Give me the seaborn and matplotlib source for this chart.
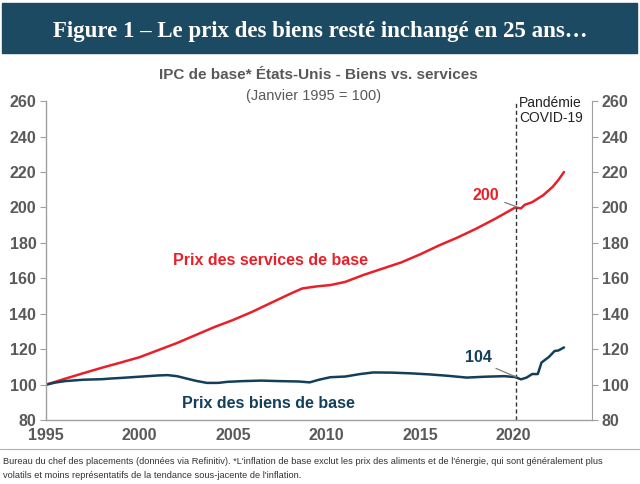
import matplotlib
matplotlib.use("Agg")
import matplotlib.pyplot as plt
from matplotlib.patches import Rectangle
import seaborn as sns
import pandas as pd

# IPC de base Etats-Unis (janvier 1995 = 100)
services_dates = [1995.0, 1996.0, 1997.0, 1998.0, 1999.0, 2000.0, 2001.0, 2002.0,
                  2003.0, 2004.0, 2005.0, 2006.0, 2007.0, 2008.0, 2008.7, 2009.5,
                  2010.2, 2011.0, 2012.0, 2013.0, 2014.0, 2015.0, 2016.0, 2017.0,
                  2018.0, 2019.0, 2020.1, 2020.4, 2020.6, 2021.0, 2021.6, 2022.1,
                  2022.4, 2022.7]
services = [100, 103.3, 106.5, 109.6, 112.5, 115.5, 119.5, 123.5,
            128, 132.5, 136.5, 141, 146, 151, 154.3, 155.5,
            156.2, 158, 162, 165.5, 169, 173.5, 178.5, 183,
            188, 193.5, 200, 199.5, 201.5, 203, 207, 211.7,
            215.5, 220]

goods_dates = [1995.0, 1995.5, 1996.0, 1997.0, 1998.0, 1998.5, 1999.0, 2000.0,
               2001.0, 2001.5, 2002.0, 2002.5, 2003.0, 2003.6, 2004.2, 2004.7,
               2005.5, 2006.5, 2007.5, 2008.5, 2009.1, 2009.6, 2010.2, 2011.0,
               2011.8, 2012.5, 2013.5, 2014.5, 2015.5, 2016.5, 2017.5, 2018.5,
               2019.5, 2020.1, 2020.4, 2020.7, 2021.0, 2021.3, 2021.5, 2021.9,
               2022.2, 2022.4, 2022.7]
goods = [100, 101.2, 102, 102.8, 103.1, 103.5, 103.8, 104.5,
         105.2, 105.4, 104.8, 103.5, 102.2, 101, 101, 101.6,
         102, 102.3, 102, 101.8, 101.3, 102.8, 104.2, 104.6,
         106, 106.9, 106.8, 106.4, 105.8, 105, 104, 104.5,
         104.8, 104.3, 103, 104, 106, 106, 112.5, 115.7,
         119, 119.3, 121]

covid_date = 2020.15
y_ticks = [80, 100, 120, 140, 160, 180, 200, 220, 240, 260]
x_ticks = [1995, 2000, 2005, 2010, 2015, 2020]

RED = "#e8202a"
NAVY = "#143f5a"
GREY = "#595959"
BANNER = "#1b4a62"

sns.set_style("white")
plt.rcParams["font.family"] = ["Liberation Sans", "DejaVu Sans"]

df = pd.concat([
    pd.DataFrame({"date": services_dates, "indice": services, "serie": "services"}),
    pd.DataFrame({"date": goods_dates, "indice": goods, "serie": "biens"}),
])

fig = plt.figure(figsize=(6.4, 4.84), dpi=100)
ax = fig.add_axes([0.072, 0.132, 0.853, 0.659])

sns.lineplot(data=df, x="date", y="indice", hue="serie",
             palette={"services": RED, "biens": NAVY},
             linewidth=1.8, legend=False, ax=ax)

ax.set_xlim(1995, 2024.2)
ax.set_ylim(80, 260)
ax.set_xticks(x_ticks)
ax.set_yticks(y_ticks)
ax.set_xlabel("")
ax.set_ylabel("")

tick_font = dict(fontsize=11.5, fontweight="bold", color=GREY)
ax.set_xticklabels([str(v) for v in x_ticks], **tick_font)
ax.set_yticklabels([str(v) for v in y_ticks], **tick_font)
ax.tick_params(axis="x", direction="in", length=5, color="#a0a0a0", pad=6)
ax.tick_params(axis="y", direction="out", length=4, color="#a0a0a0", pad=3, left=True)

for side in ["left", "bottom"]:
    ax.spines[side].set_color("#a0a0a0")
    ax.spines[side].set_linewidth(1.0)
ax.spines["top"].set_visible(False)
ax.spines["right"].set_visible(False)

ax2 = ax.twinx()
ax2.set_ylim(80, 260)
ax2.set_yticks(y_ticks)
ax2.set_yticklabels([str(v) for v in y_ticks], **tick_font)
ax2.tick_params(axis="y", direction="out", length=4, color="#a0a0a0", pad=3, right=True)
ax2.spines["right"].set_color("#a0a0a0")
for side in ["left", "top", "bottom"]:
    ax2.spines[side].set_visible(False)

# ligne pandemie
ax.axvline(covid_date, color="#333333", linestyle=(0, (3, 2)), linewidth=1.0)
ax.text(covid_date + 0.15, 263, "Pandémie\nCOVID-19", fontsize=10, color="#222222",
        ha="left", va="top", linespacing=1.1, clip_on=False)

# etiquettes des series
ax.text(2007.0, 170, "Prix des services de base", color=RED, fontsize=11.5,
        fontweight="bold", ha="center", va="center")
ax.text(2006.9, 89.5, "Prix des biens de base", color=NAVY, fontsize=11.5,
        fontweight="bold", ha="center", va="center")

ax.annotate("200", xy=(covid_date, 200.5), xytext=(2018.5, 207),
            color=RED, fontsize=11.5, fontweight="bold", ha="center", va="center",
            arrowprops=dict(arrowstyle="-", color="#7f7f7f", lw=0.9,
                            relpos=(1.0, 0.15), shrinkA=2, shrinkB=0))
ax.annotate("104", xy=(covid_date, 104.3), xytext=(2018.1, 115.5),
            color=NAVY, fontsize=11.5, fontweight="bold", ha="center", va="center",
            arrowprops=dict(arrowstyle="-", color="#7f7f7f", lw=0.9,
                            relpos=(0.85, 0.0), shrinkA=1, shrinkB=0))

# bandeau titre
fig.patches.append(Rectangle((2 / 640, 1 - 53 / 484), 635 / 640, 50 / 484,
                             transform=fig.transFigure, color=BANNER, zorder=0))
fig.text(0.5, 1 - 31 / 484, "Figure 1 – Le prix des biens resté inchangé en 25 ans…",
         color="white", fontsize=16.5, fontweight="bold",
         family=["Liberation Serif", "DejaVu Serif"], ha="center", va="center")

fig.text(0.498, 1 - 75 / 484, "IPC de base* États-Unis - Biens vs. services",
         color=GREY, fontsize=11, fontweight="bold", ha="center", va="center")
fig.text(0.49, 1 - 96 / 484, "(Janvier 1995 = 100)", color=GREY, fontsize=10.5,
         ha="center", va="center")

# pied de page
fig.add_artist(plt.Line2D([0, 1], [1 - 449 / 484, 1 - 449 / 484],
                          transform=fig.transFigure, color="#b0b0b0", lw=0.8))
foot_font = dict(fontsize=6.7, color="#333333", ha="left", va="center")
fig.text(0.005, 1 - 462 / 484,
         "Bureau du chef des placements (données via Refinitiv). *L'inflation de base exclut les "
         "prix des aliments et de l'énergie, qui sont généralement plus", **foot_font)
fig.text(0.005, 1 - 476 / 484,
         "volatils et moins représentatifs de la tendance sous-jacente de l'inflation.",
         **foot_font)

fig.savefig("out.png", dpi=100)
